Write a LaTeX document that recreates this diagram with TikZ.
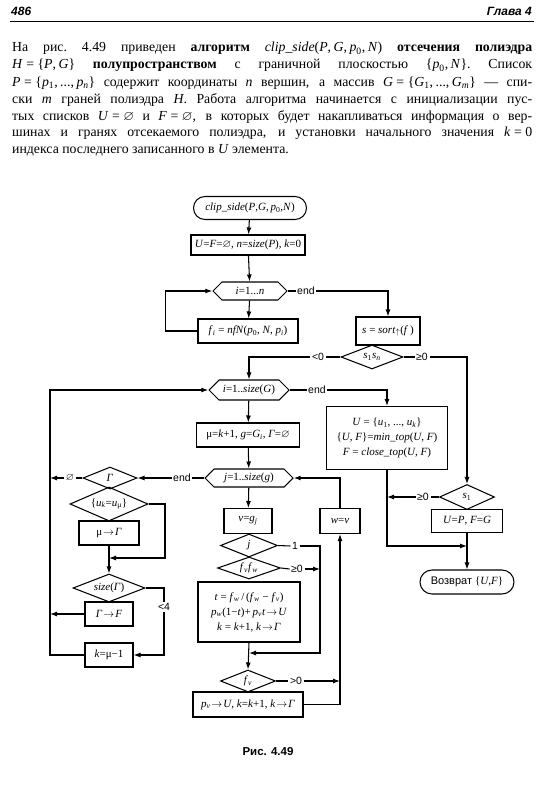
\documentclass[tikz,border=0pt]{standalone}
\usepackage{amsmath,amssymb}
\usepackage{fontspec}
\setmainfont{Liberation Serif}
\setsansfont{Liberation Sans}
\usetikzlibrary{shapes.geometric,shapes.symbols,shapes.misc,arrows.meta}
\newcommand\vi[1]{\textit{#1}}
\newcommand\sub[1]{\textsubscript{#1}}
\newcommand\eqs{\kern3.5pt=\kern3.5pt}
\newcommand\cm{,\kern2.5pt}
\newcommand\ar{\kern1pt$\to$\kern1pt}
\newcommand\es{$\varnothing$}
\tikzset{
  lw/.style={line width=1.05pt},
  ff/.style={font=\fontsize{11}{13}\selectfont},
  box/.style={draw, lw, inner sep=1pt, ff, align=center},
  term/.style={draw, lw, rounded rectangle, inner sep=1pt, ff},
  hexa/.style={draw, lw, signal, signal to=east and west, inner sep=0pt, ff},
  dia/.style={draw, lw, diamond, inner sep=0pt, ff},
  lbl/.style={font=\sffamily\fontsize{10.5}{12}\selectfont, inner sep=1.5pt},
  flow/.style={lw},
  arr/.style={lw, -{Latex[length=7pt,width=5pt]}},
  bodyline/.style={anchor=base west, inner sep=0pt, font=\fontsize{13.8}{16}\selectfont},
}
\begin{document}
\begin{tikzpicture}[x=1pt,y=-1pt]
\useasboundingbox (0,0) rectangle (544,800);
% header
\node[anchor=west, inner sep=0pt, font=\sffamily\bfseries\itshape\fontsize{12}{13}\selectfont] (pg) at (11,11) {486};
\node[anchor=east, inner sep=0pt, font=\sffamily\bfseries\itshape\fontsize{12}{13}\selectfont] (ch) at (532,11) {Глава 4};
\coordinate (r1) at (10,21.5);
\coordinate (r2) at (534,21.5);
\draw[line width=1.6pt] (r1) -- (r2);
% paragraph
\node[bodyline] (t1) at (12,52) {\makebox[520pt][s]{На рис.~4.49 приведен \textbf{алгоритм} \vi{clip\_side}(\vi{P}\cm\vi{G}\cm\vi{p}\textsubscript{0}\cm\vi{N}) \textbf{отсечения полиэдра}}};
\node[bodyline] (t2) at (12,69) {\makebox[520pt][s]{\vi{H}\eqs\{\vi{P}\cm\vi{G}\} \textbf{полупространством} с граничной плоскостью \{\vi{p}\textsubscript{0}\cm\vi{N}\}. Список}};
\node[bodyline] (t3) at (12,86) {\makebox[520pt][s]{\vi{P}\eqs\{\vi{p}\textsubscript{1}\cm...\cm\vi{p}\textsubscript{\vi{n}}\} содержит координаты \vi{n} вершин, а массив \vi{G}\eqs\{\vi{G}\textsubscript{1}\cm...\cm\vi{G}\textsubscript{\vi{m}}\} — спи-}};
\node[bodyline] (t4) at (12,103) {\makebox[520pt][s]{ски \vi{m} граней полиэдра \vi{H}. Работа алгоритма начинается с инициализации пус-}};
\node[bodyline] (t5) at (12,120) {\makebox[520pt][s]{тых списков \vi{U}\eqs$\varnothing$ и \vi{F}\eqs$\varnothing$, в которых будет накапливаться информация о вер-}};
\node[bodyline] (t6) at (12,136.5) {\makebox[520pt][s]{шинах и гранях отсекаемого полиэдра, и установки начального значения \vi{k}\eqs0}};
\node[bodyline] (t7) at (12,153) {индекса последнего записанного в \vi{U} элемента.};

% flowchart nodes
\node[term, minimum width=115pt, minimum height=23pt] (start) at (250,208) {\vi{clip\_side}(\vi{P},\vi{G},\,\vi{p}\sub{0},\vi{N})};
\node[box, minimum width=114pt, minimum height=20pt] (init) at (248,245) {\vi{U}=\vi{F}=\es, \vi{n}=\vi{size}(\vi{P}), \vi{k}=0};
\node[hexa, minimum width=74pt, minimum height=18pt] (h1) at (250,291) {\vi{i}=1...\vi{n}};
\node[box, minimum width=100pt, minimum height=24pt] (f) at (248,331) {\vi{f}\sub{\vi{i}} = \vi{nfN}(\vi{p}\sub{0}, \vi{N}, \vi{p}\sub{\vi{i}})};
\node[box, minimum width=64pt, minimum height=28pt] (sort) at (388,331) {\vi{s} = \vi{sort}\sub{$\uparrow$}(\vi{f}\,)};
\node[dia, minimum width=62pt, minimum height=24pt, aspect=2.6] (d1) at (372,357) {\vi{s}\sub{1}\vi{s}\sub{\vi{n}}};
\node[hexa, minimum width=80pt, minimum height=20pt] (h2) at (249,390) {\vi{i}=1..\vi{size}(\vi{G})};
\node[box, minimum width=121pt, minimum height=63pt] (U) at (387,438) {\vi{U} = \{\vi{u}\sub{1}, ..., \vi{u}\sub{\vi{k}}\}\\[2pt] \{\vi{U}, \vi{F}\}=\vi{min\_top}(\vi{U}, \vi{F})\\[2pt] \vi{F} = \vi{close\_top}(\vi{U}, \vi{F})};
\node[box, minimum width=103pt, minimum height=24pt] (mu) at (248,435) {μ=\vi{k}+1, \vi{g}=\vi{G}\sub{\vi{i}}, \vi{Γ}=\es};
\node[hexa, minimum width=88pt, minimum height=18pt] (h3) at (249,478) {\vi{j}=1..\vi{size}(\vi{g})};
\node[box, minimum width=48pt, minimum height=25pt] (v) at (248,521) {\vi{v}=\vi{g}\sub{\vi{j}}};
\node[box, minimum width=40pt, minimum height=25pt] (w) at (340,521) {\vi{w}=\vi{v}};
\node[dia, minimum width=57pt, minimum height=23pt, aspect=2.5] (dj) at (249,545.5) {\vi{j}};
\node[dia, minimum width=63pt, minimum height=22pt, aspect=2.8] (dff) at (249,568) {\vi{f}\sub{\vi{v}}\vi{f}\sub{\vi{w}}};
\node[box, minimum width=102pt, minimum height=60pt] (t) at (249,612) {\vi{t} = \vi{f}\sub{\vi{w}}\,/\,(\vi{f}\sub{\vi{w}} − \vi{f}\sub{\vi{v}})\\[2pt] \vi{p}\sub{\vi{w}}(1−\vi{t})+\,\vi{p}\sub{\vi{v}}\vi{t}\ar\vi{U}\\[2pt] \vi{k} = \vi{k}+1, \vi{k}\ar\vi{Γ}};
\node[dia, minimum width=55pt, minimum height=22pt, aspect=2.5] (dfv) at (248,681) {\vi{f}\sub{\vi{v}}};
\node[box, minimum width=110pt, minimum height=25pt] (pv) at (248,704.5) {\vi{p}\sub{\vi{v}}\ar\vi{U}, \vi{k}=\vi{k}+1, \vi{k}\ar\vi{Γ}};
% left column
\node[dia, minimum width=54pt, minimum height=22pt, aspect=2.5] (dG) at (110,478) {\vi{Γ}};
\node[dia, minimum width=78pt, minimum height=34pt, aspect=2.3] (du) at (109,504) {\{\vi{u}\sub{\vi{k}}=\vi{u}\sub{μ}\}};
\node[box, minimum width=60pt, minimum height=24pt] (mG) at (109,533) {μ\ar\vi{Γ}};
\node[dia, minimum width=72pt, minimum height=28pt, aspect=2.6] (ds) at (109,588) {\vi{size}(\vi{Γ})};
\node[box, minimum width=48pt, minimum height=24pt] (GF) at (109,614) {\vi{Γ}\ar\vi{F}};
\node[box, minimum width=48pt, minimum height=24pt] (km) at (109,655) {\vi{k}=μ−1};
% right column
\node[dia, minimum width=55pt, minimum height=25pt, aspect=2.2] (ds1) at (467,497) {\vi{s}\sub{1}};
\node[box, minimum width=71pt, minimum height=23pt] (UP) at (467,521) {\vi{U}=\vi{P}, \vi{F}=\vi{G}};
\node[term, minimum width=96pt, minimum height=24pt] (ret) at (467,582) {\sffamily Возврат \rmfamily\{\vi{U},\vi{F}\}};

% labels
\node[lbl] (e1) at (306,291) {end};
\node[lbl] (lt0) at (318,357) {<0};
\node[lbl] (ge0) at (422,357) {≥0};
\node[lbl] (e2) at (317,390) {end};
\node[lbl] (e3) at (182,478) {end};
\node[lbl] (one) at (295,546) {1};
\node[lbl] (ge0b) at (297,569) {≥0};
\node[lbl] (gt0) at (296,681) {>0};
\node[lbl] (emp) at (70,478) {\es};
\node[lbl, fill=white] (lt4) at (164,607) {<4};
\node[lbl] (ge0c) at (423,497) {≥0};

% coordinates
\coordinate (L1) at (50,390);
\coordinate (m1) at (320,653);
\coordinate (m2) at (249,653);
\coordinate (R1) at (165,558);
\coordinate (M3) at (467,546);

% connectors
\draw[arr] (start) -- (init);
\draw[arr] (init) -- (h1);
\draw[arr] (h1) -- (f);
\draw[arr] (f.west) -- ++(-32,0) |- (h1.west);
\draw[flow] (h1.east) -- (e1.west);
\draw[arr] (e1.east) -| (sort.north);
\draw[flow] (d1.west) -- (lt0.east);
\draw[arr] (lt0.west) -| (h2.north);
\draw[flow] (d1.east) -- (ge0.west);
\draw[arr] (ge0.east) -| (ds1.north);
\draw[arr] (h2) -- (mu);
\draw[arr] (mu) -- (h3);
\draw[arr] (h3) -- (v);
\draw[flow] (h2.east) -- (e2.west);
\draw[arr] (e2.east) -| (U.north);
\draw[flow] (h3.west) -- (e3.east);
\draw[arr] (e3.west) -- (dG.east);
\draw[arr] (w.north) |- (h3.east);
\draw[flow] (dj.east) -- (one.west);
\draw[arr] (one.east) -| (m1) -- (m2);
\draw[flow] (dff.east) -- (ge0b.west);
\draw[arr] (ge0b.east) -- (ge0b.east -| m1);
\draw[arr] (t.south) -- (dfv.north);
\draw[flow] (dfv.east) -- (gt0.west);
\draw[arr] (gt0.east) -- (gt0.east -| w.south);
\draw[arr] (pv.east) -| (w.south);
% left
\draw[flow] (dG.west) -- (emp.east);
\draw[arr] (emp.west) -- (emp.west -| L1);
\draw[arr] (km.west) -| (L1) -- (h2.west);
\draw[arr] (GF.west) -- (GF.west -| L1);
\draw[arr] (mG.south) -- (ds.north);
\draw[arr] (du.east) -| (R1) -- (R1 -| mG.south);
\draw[flow] (ds.east) -| (lt4.north);
\draw[arr] (lt4.south) |- (km.east);
% right
\draw[flow] (ds1.west) -- (ge0c.east);
\draw[arr] (ge0c.west) -- (ge0c.west -| U.south);
\draw[arr] (U.south) |- (M3);
\draw[arr] (UP.south) -- (ret.north);

% caption
\node[inner sep=0pt, font=\sffamily\bfseries\fontsize{11.5}{13}\selectfont] (cap) at (268,752) {Рис. 4.49};
\end{tikzpicture}
\end{document}
